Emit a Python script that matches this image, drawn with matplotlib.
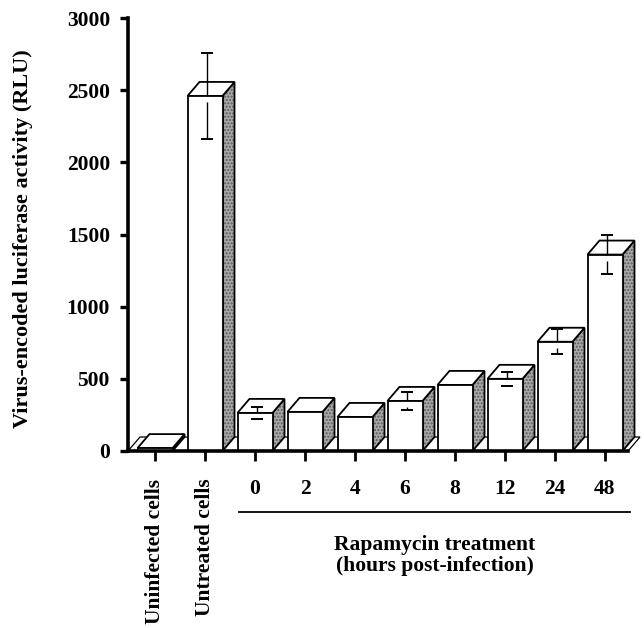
import matplotlib
matplotlib.use("Agg")
import matplotlib.pyplot as plt
from matplotlib.patches import Polygon
import numpy as np

categories = ["Uninfected cells", "Untreated cells", "0", "2", "4", "6", "8", "12", "24", "48"]
values = [20, 2460, 264, 271, 236, 347, 458, 500, 757, 1361]
errors = [0, 300, 40, 0, 0, 60, 0, 50, 85, 135]
yticks = [0, 500, 1000, 1500, 2000, 2500, 3000]

plt.rcParams['font.family'] = ['Liberation Serif', 'DejaVu Serif']
plt.rcParams['font.weight'] = 'bold'
FS = 15.5

fig = plt.figure(figsize=(6.44, 6.28), dpi=100)
W, H = 644, 628
left_px, right_px, top_px, base_px = 128, 628, 18, 451
ax = fig.add_axes([left_px / W, (H - base_px) / H, (right_px - left_px) / W, (base_px - top_px) / H])

x = np.arange(len(categories))
px_per_unit = 50.0
xmin = -(155 - left_px) / px_per_unit
xmax = xmin + (right_px - left_px) / px_per_unit
ax.set_xlim(xmin, xmax)
ax.set_ylim(0, 3000)

# depth of the pseudo-3D effect, in data units
ax_h_px = base_px - top_px
ypp = 3000 / ax_h_px          # data units per pixel in y
dx = 12 / px_per_unit
dy = 14 * ypp
w = 0.7

# floor
floor = Polygon([(xmin, 0), (xmax, 0), (xmax + dx, dy), (xmin + dx, dy)], closed=True,
                facecolor='white', edgecolor='black', lw=0.9, zorder=1, clip_on=False)
ax.add_patch(floor)

# bars
for xi, v in zip(x, values):
    xl, xr = xi - w / 2, xi + w / 2
    side_pts = [(xr, 0), (xr + dx, dy), (xr + dx, v + dy), (xr, v)]
    ax.add_patch(Polygon(side_pts, closed=True, facecolor='#a8a8a8', edgecolor='#5a5a5a',
                         hatch='.....', lw=0, zorder=2, clip_on=False))
    ax.add_patch(Polygon(side_pts, closed=True, fill=False, edgecolor='black', lw=1.3,
                         zorder=3, clip_on=False))
    top_pts = [(xl, v), (xr, v), (xr + dx, v + dy), (xl + dx, v + dy)]
    ax.add_patch(Polygon(top_pts, closed=True, facecolor='white', edgecolor='black', lw=1.3,
                         zorder=3, clip_on=False))

ax.bar(x, values, width=w, color='white', edgecolor='black', linewidth=1.3, zorder=4)

# error bars: upper part through the top face, lower part on the front face
cap = 0.12
for xi, v, e in zip(x, values, errors):
    if e <= 0:
        continue
    xe = xi + 0.04
    ax.vlines(xe, v + 1 * ypp, v + e, color='black', lw=1.0, zorder=6)
    ax.vlines(xe, v - e, v - 6 * ypp, color='black', lw=1.0, zorder=6)
    ax.hlines([v + e, v - e], xe - cap, xe + cap, color='black', lw=1.4, zorder=6)

# axes styling
for s in ['top', 'right']:
    ax.spines[s].set_visible(False)
ax.spines['left'].set_linewidth(2.6)
ax.spines['bottom'].set_linewidth(2.6)
ax.spines['bottom'].set_zorder(7)
ax.set_yticks(yticks)
ax.set_yticklabels([str(t) for t in yticks], fontsize=FS, fontweight='bold')
ax.tick_params(axis='y', direction='out', length=6, width=2.4, pad=7)
ax.set_xticks(x)
ax.set_xticklabels(categories, fontsize=FS, fontweight='bold')
ax.tick_params(axis='x', direction='out', length=7, width=2.0, pad=13)
for lab in ax.get_xticklabels()[:2]:
    lab.set_rotation(90)
    lab.set_va('top')

ax.set_ylabel("Virus-encoded luciferase activity (RLU)", fontsize=16, fontweight='bold')
ax.yaxis.set_label_coords(-0.19, 0.49)

# group line and label
ax.plot([(239 - left_px) / 500, (630 - left_px) / 500], [-(512 - base_px) / ax_h_px] * 2,
        transform=ax.transAxes, color='black', lw=1.3, clip_on=False)
ax.text((435 - left_px) / 500, -(545 - base_px) / ax_h_px, "Rapamycin treatment",
        transform=ax.transAxes, ha='center', va='center', fontsize=FS, fontweight='bold')
ax.text((435 - left_px) / 500, -(566 - base_px) / ax_h_px, "(hours post-infection)",
        transform=ax.transAxes, ha='center', va='center', fontsize=FS, fontweight='bold')

fig.savefig("out.png", dpi=100)
